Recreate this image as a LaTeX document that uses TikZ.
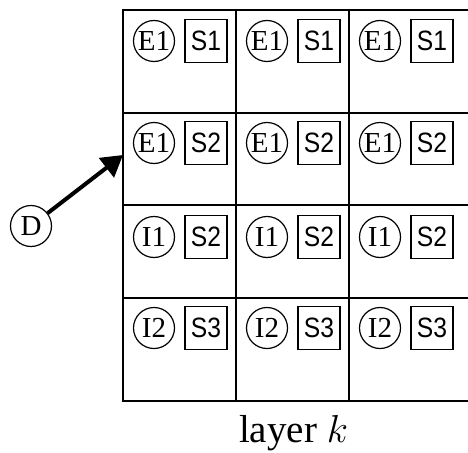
\documentclass[tikz,border=0pt]{standalone}
\usepackage{fix-cm}
\usepackage{fontspec}
\setmainfont{Liberation Serif}
\newfontfamily\labelsans[FakeStretch=0.88]{Liberation Sans}
\usetikzlibrary{arrows.meta}
\begin{document}
\begin{tikzpicture}[x=1pt,y=-1pt,
  gridline/.style={line width=2pt},
  ent/.style={circle,draw,line width=1.2pt,minimum size=41pt,inner sep=0pt,
    font=\fontsize{29}{29}\selectfont},
  tag/.style={rectangle,draw,line width=1.2pt,minimum width=42pt,minimum height=43pt,
    inner sep=0pt,font=\labelsans\fontsize{28}{28}\selectfont},
  link/.style={line width=4pt,-{Triangle[length=21pt,width=24pt]}}]
\useasboundingbox (0,0) rectangle (468,452);
\clip (0,0) rectangle (468,452);
% cell grid of the layer (runs off to the right)
\foreach \y in {10,113,205,298,401}
  \draw[gridline] (122,\y) -- (475,\y);
\foreach \x in {123,236,349}
  \draw[gridline] (\x,9) -- (\x,402);
% entity circle and state box in every cell
\foreach \r/\y/\e/\s in {1/41/E1/S1,2/143/E1/S2,3/237/I1/S2,4/328/I2/S3}
  \foreach \c/\x in {1/123,2/236,3/349} {
    \node[ent] (e\r\c) at (\x+31,\y) {\e};
    \node[tag] (s\r\c) at (\x+83,\y) {\s};
  }
% incoming entity
\node[ent] (D) at (31,226) {D};
\coordinate (entry) at (123,155);
\draw[link] (D) -- (entry);
% caption
\node[anchor=base,inner sep=0pt,font=\fontsize{39}{39}\selectfont] (cap) at (293.5,442.5) {layer $k$};
\end{tikzpicture}
\end{document}
